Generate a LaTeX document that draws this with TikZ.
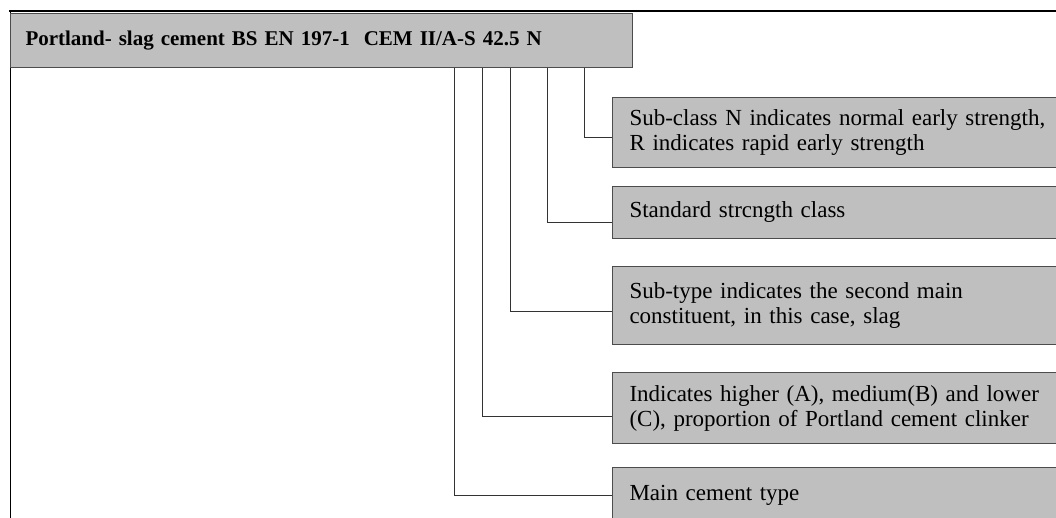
\documentclass[tikz,border=0pt]{standalone}
\usepackage{fontspec}
\setmainfont{Liberation Serif}

\begin{document}
\begin{tikzpicture}[x=1pt, y=-1pt,
    box/.style={draw=black!70, line width=1pt, fill=black!25, anchor=north west,
        text width=560pt, align=left, inner xsep=17pt, inner ysep=0pt,
        font=\fontsize{23}{25}\selectfont},
    lead/.style={draw=black!80, line width=1pt}]
    \useasboundingbox (0,0) rectangle (1056,518);
    \clip (0,0) rectangle (1056,518);

    % Frame
    \draw[line width=1pt] (10,11) -- (10,518);
    \draw[line width=2pt] (9,11) -- (1056,11);

    % Header
    \node[box, minimum height=54pt, text width=592pt, inner xsep=15pt,
        font=\fontsize{21}{24}\selectfont\bfseries] (hdr) at (10,13)
        {Portland- slag cement BS EN 197-1\ \ CEM II/A-S 42.5 N};

    % Boxes
    \node[box, minimum height=70pt] (subclass) at (612,97)
        {Sub-class N indicates normal early strength,\\R indicates rapid early strength};
    \node[box, minimum height=52pt] (strength) at (612,186)
        {Standard strcngth class};
    \node[box, minimum height=78pt] (subtype) at (612,266)
        {Sub-type indicates the second main\\constituent, in this case, slag};
    \node[box, minimum height=71pt] (proportion) at (612,372)
        {Indicates higher (A), medium(B) and lower\\(C), proportion of Portland cement clinker};
    \node[box, minimum height=56pt] (maintype) at (612,467)
        {Main cement type};

    % Leaders (header to boxes)
    \draw[lead] ([xshift=574pt]hdr.south west) |- ([yshift=-5pt]subclass.west);
    \draw[lead] ([xshift=537pt]hdr.south west) |- ([yshift=-10pt]strength.west);
    \draw[lead] ([xshift=500pt]hdr.south west) |- ([yshift=-6pt]subtype.west);
    \draw[lead] ([xshift=472pt]hdr.south west) |- ([yshift=-8pt]proportion.west);
    \draw[lead] ([xshift=444pt]hdr.south west) |- (maintype.west);
\end{tikzpicture}
\end{document}
